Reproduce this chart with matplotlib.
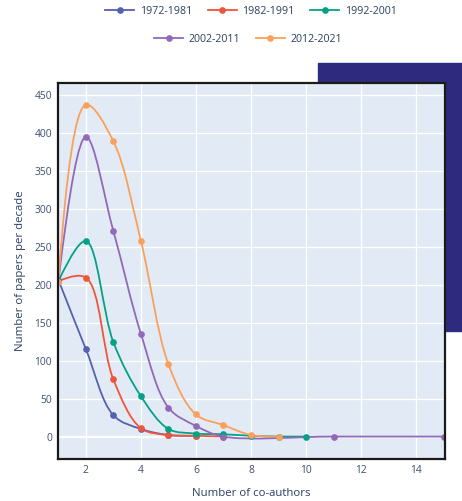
import numpy as np
import matplotlib.pyplot as plt
from matplotlib.path import Path
from matplotlib.patches import PathPatch, Rectangle
from matplotlib.lines import Line2D

plt.rcParams['font.family'] = ['Open Sans', 'DejaVu Sans']

labels = ["1972-1981", "1982-1991", "1992-2001", "2002-2011", "2012-2021"]
colors = ["#5561ad", "#ef553b", "#04a185", "#9268b8", "#f9a15c"]

x_7281 = [1, 2, 3, 4, 5, 6]
y_7281 = [207, 116, 29, 11, 3, 2]
x_8291 = [1, 2, 3, 4, 5, 6, 7]
y_8291 = [205, 210, 76, 12, 3, 2, 1]
x_9201 = [1, 2, 3, 4, 5, 6, 7, 8, 9, 10]
y_9201 = [205, 258, 125, 54, 11, 5, 4, 2, 1, 1]
x_0211 = [1, 2, 3, 4, 5, 6, 7, 11, 15]
y_0211 = [205, 395, 271, 136, 39, 15, 1, 1, 1]
x_1221 = [1, 2, 3, 4, 5, 6, 7, 8, 9]
y_1221 = [204, 437, 389, 258, 96, 30, 16, 3, 1]

series = [(x_7281, y_7281), (x_8291, y_8291), (x_9201, y_9201),
          (x_0211, y_0211), (x_1221, y_1221)]

xlim = (0.97, 15.03)
ylim = (-28.5, 465.6)

W, H = 462, 501
fig = plt.figure(figsize=(W / 100, H / 100), dpi=100)

# dark block behind the plot area
fig.patches.append(Rectangle((318 / W, 1 - 331 / H), 144 / W, 268 / H,
                             transform=fig.transFigure, color="#2e2a7e", zorder=0))

ax = fig.add_axes([57.5 / W, 1 - 459 / H, 387 / W, 376 / H])
ax.set_facecolor("#e2ebf5")
ax.set_zorder(1)
ax.set_xlim(*xlim)
ax.set_ylim(*ylim)

# pixel scale for spline smoothing (plotly style)
sx = 387 / (xlim[1] - xlim[0])
sy = 376 / (ylim[1] - ylim[0])


def tangent(p0, p1, p2, s=1.0):
    d1 = p0 - p1
    d2 = p2 - p1
    d1a = np.hypot(*d1) ** 0.5
    d2a = np.hypot(*d2) ** 0.5
    num = (d2a * d2a * d1 - d1a * d1a * d2) * s
    den1 = 3 * d2a * (d1a + d2a)
    den2 = 3 * d1a * (d1a + d2a)
    return p1 + num / den1, p1 - num / den2


def spline_path(xs, ys):
    pts = np.column_stack([np.array(xs, float) * sx, np.array(ys, float) * sy])
    n = len(pts)
    tans = [tangent(pts[i - 1], pts[i], pts[i + 1]) for i in range(1, n - 1)]
    verts = [pts[0], tans[0][0], pts[1]]
    codes = [Path.MOVETO, Path.CURVE3, Path.CURVE3]
    for i in range(2, n - 1):
        verts += [tans[i - 2][1], tans[i - 1][0], pts[i]]
        codes += [Path.CURVE4] * 3
    verts += [tans[n - 3][1], pts[n - 1]]
    codes += [Path.CURVE3] * 2
    verts = np.array(verts) / [sx, sy]
    return Path(verts, codes)


ax.grid(True, color="white", lw=0.9)
ax.set_axisbelow(True)
ax.axhline(0, color="white", lw=1.5, zorder=0.5)

for (xs, ys), c in zip(series, colors):
    ax.add_patch(PathPatch(spline_path(xs, ys), fill=False, edgecolor=c, lw=1.3, zorder=2))
    ax.plot(xs, ys, ls="none", marker="o", ms=3.8, color=c, zorder=3)

ax.set_xticks(range(2, 15, 2))
ax.set_yticks(range(0, 451, 50))
ax.tick_params(length=0, labelsize=7.4, labelcolor="#3d4f6e", pad=4)
for sp in ax.spines.values():
    sp.set_linewidth(1.6)
    sp.set_color("#1a1a1a")
    sp.set_zorder(5)

ax.set_xlabel("Number of co-authors", fontsize=8.2, color="#2a3f5f", labelpad=9)
ax.set_ylabel("Number of papers per decade", fontsize=8.2, color="#2a3f5f", labelpad=6)

handles = [Line2D([], [], color=c, lw=1.3, marker="o", ms=3.8) for c in colors]
kw = dict(frameon=False, fontsize=7.7, handlelength=2.7, handletextpad=0.5,
          columnspacing=1.5, labelcolor="#2a3f5f", loc="center")
fig.legend(handles[:3], labels[:3], ncol=3, bbox_to_anchor=(251 / W, 1 - 11 / H), **kw)
fig.legend(handles[3:], labels[3:], ncol=2, bbox_to_anchor=(248 / W, 1 - 39 / H), **kw)

fig.savefig("out.png", dpi=100)
